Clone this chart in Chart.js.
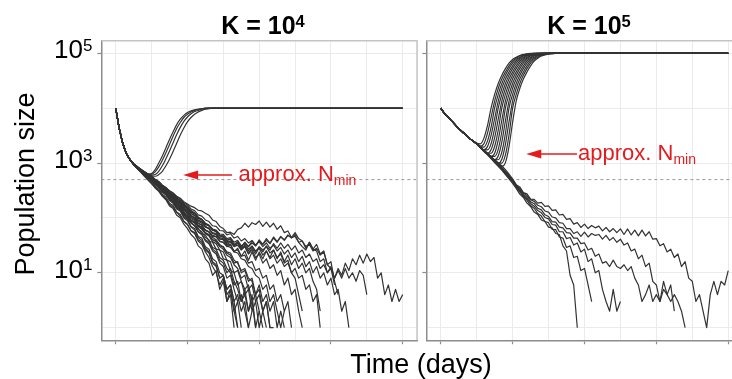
<!DOCTYPE html>
<html>
<head>
<meta charset="utf-8">
<script src="https://cdn.jsdelivr.net/npm/chart.js@4.4.1/dist/chart.umd.min.js"></script>
<style>
    html, body { margin: 0; padding: 0; width: 732px; height: 379px; overflow: hidden; background: #fff; }
    body { position: relative; font-family: "Liberation Sans", Arial, sans-serif; color: #000; }
    canvas { position: absolute; top: 0; }
    #k4 { left: 0; }
    #k5 { left: 420px; }
    .title { position: absolute; top: 13px; width: 316px; text-align: center; font-weight: bold; font-size: 25px; line-height: 25px; }
    .title .sup { position: relative; top: -0.45em; font-size: 0.66em; }
    #ytitle { position: absolute; left: -75px; top: 169px; width: 200px; height: 30px; line-height: 30px; text-align: center; font-size: 27px; transform: rotate(-90deg); }
    #xtitle { position: absolute; left: 321px; top: 351px; width: 200px; line-height: 27px; text-align: center; font-size: 27px; }
</style>
</head>
<body>
<canvas id="k4" width="420" height="379"></canvas>
<canvas id="k5" width="330" height="379"></canvas>
<div class="title" style="left:105px">K = 10<span class="sup">4</span></div>
<div class="title" style="left:431px">K = 10<span class="sup">5</span></div>
<div id="ytitle">Population size</div>
<div id="xtitle">Time (days)</div>
<script>
// sample times (days)
const halfDays = [0, 0.5, 1, 1.5, 2, 2.5, 3, 3.5, 4, 4.5, 5, 5.5, 6, 6.5, 7, 7.5, 8, 8.5, 9, 9.5, 10, 10.5, 11, 11.5, 12, 12.5, 13, 13.5, 14, 14.5, 15, 15.5, 16, 16.5, 17, 17.5, 18, 18.5, 19, 19.5, 20, 20.5, 21, 21.5, 22, 22.5, 23, 23.5, 24, 24.5, 25, 25.5, 26, 26.5, 27, 27.5, 28, 28.5, 29, 29.5, 30, 30.5, 31, 31.5, 32, 32.5, 33, 33.5, 34, 34.5, 35, 35.5, 36, 36.5, 37, 37.5, 38, 38.5, 39, 39.5, 40]
const k4RiseDays = [0, 0.5, 1, 1.5, 2, 2.5, 3, 3.5, 4, 4.5, 5, 5.5, 6, 6.5, 7, 7.5, 8, 8.5, 9, 9.5, 10, 10.5, 11, 11.5, 12, 12.5, 13, 13.5, 14, 40]
const k5RiseDays = [0, 0.5, 1, 1.5, 2, 2.5, 3, 3.5, 4, 4.5, 5, 5.5, 6, 6.5, 7, 7.5, 8, 8.5, 9, 9.5, 10, 10.5, 11, 11.5, 12, 12.5, 13, 13.5, 14, 14.5, 15, 15.5, 16, 40]
const gridDays = [0, 5, 10, 15, 20, 25, 30, 35, 40]
const decades = [1, 10, 100, 1000, 10000, 100000]
const labelledExps = [5, 3, 1]
const nminLevel = 500

// K = 10^4 panel: shared first days (t = 0 .. 2)
const k4Start = [10000, 4200, 2250, 1480, 1150]
// runs that reach K (from t = 2.5 .. 14, then t = 40)
const k4Survivor1 = [960, 835, 745, 680, 631, 646, 759, 1000, 1349, 1905, 2692, 3715, 5012, 6310, 7413, 8318, 8913, 9333, 9550, 9772, 10000, 10000, 10000, 10000, 10000]
const k4Survivor2 = [958, 832, 742, 676, 631, 631, 692, 851, 1122, 1549, 2188, 3090, 4266, 5495, 6761, 7762, 8511, 9120, 9550, 9772, 10000, 10000, 10000, 10000, 10000]
const k4Survivor3 = [955, 828, 738, 672, 617, 603, 617, 708, 891, 1202, 1660, 2344, 3311, 4467, 5754, 6918, 7943, 8710, 9120, 9550, 9772, 10000, 10000, 10000, 10000]
const k4Survivor4 = [952, 825, 735, 668, 617, 589, 575, 617, 708, 891, 1175, 1622, 2291, 3236, 4365, 5623, 6761, 7762, 8511, 9120, 9550, 9772, 10000, 10000, 10000]
// runs that die out (from t = 2.5, every half day)
const k4Lost1 = [933, 794, 676, 575, 490, 417, 352, 305, 248, 214, 165, 148, 112, 101, 77, 64, 50, 43, 31, 27, 18, 15, 9, 11, 5, 7, 3, 4, 1, 0]
const k4Lost2 = [933, 813, 708, 603, 525, 457, 380, 334, 271, 238, 186, 168, 128, 115, 87, 76, 58, 52, 38, 33, 24, 19, 13, 10, 6, 8, 3, 5, 2, 3, 1, 0]
const k4Lost3 = [955, 813, 708, 617, 537, 479, 402, 358, 296, 262, 208, 184, 146, 133, 100, 89, 68, 60, 44, 39, 28, 24, 16, 14, 8, 9, 4, 5, 2, 1, 0]
const k4Lost4 = [933, 794, 692, 589, 501, 437, 362, 318, 260, 222, 176, 156, 126, 108, 86, 76, 59, 54, 40, 36, 26, 23, 15, 13, 8, 9, 5, 6, 3, 4, 2, 3, 1, 2, 0]
const k4Lost5 = [955, 832, 724, 631, 562, 501, 424, 365, 312, 276, 236, 202, 168, 145, 118, 102, 82, 72, 56, 50, 38, 34, 25, 22, 15, 13, 8, 9, 5, 3, 4, 2, 1, 0]
const k4Lost6 = [955, 832, 724, 646, 575, 525, 452, 392, 336, 296, 248, 218, 176, 156, 124, 110, 88, 80, 62, 56, 44, 40, 29, 27, 19, 17, 12, 10, 6, 7, 3, 4, 2, 3, 1, 2, 0]
const k4Lost7 = [933, 813, 708, 617, 550, 490, 414, 364, 304, 265, 222, 192, 158, 136, 112, 96, 82, 72, 64, 52, 49, 38, 36, 27, 26, 18, 17, 11, 10, 6, 7, 4, 5, 2, 3, 1, 2, 1, 0]
const k4Lost8 = [955, 832, 724, 631, 562, 513, 434, 382, 328, 292, 248, 222, 188, 168, 142, 128, 102, 94, 74, 68, 54, 50, 40, 37, 30, 27, 21, 19, 14, 12, 8, 9, 5, 6, 3, 4, 2, 3, 1, 0]
const k4Lost9 = [955, 851, 741, 661, 589, 537, 462, 402, 342, 306, 258, 228, 184, 162, 128, 114, 92, 84, 70, 62, 52, 49, 40, 39, 33, 29, 24, 23, 17, 15, 11, 12, 8, 7, 4, 6, 3, 4, 2, 3, 1, 2, 1, 0]
const k4Lost10 = [933, 813, 708, 631, 562, 501, 424, 376, 312, 272, 232, 204, 164, 146, 114, 102, 90, 84, 70, 68, 60, 56, 48, 46, 38, 36, 31, 29, 24, 23, 18, 17, 13, 12, 9, 8, 5, 6, 3, 4, 2, 1, 2, 0]
const k4Lost11 = [955, 851, 759, 676, 603, 550, 474, 420, 358, 320, 278, 248, 210, 190, 158, 144, 120, 110, 90, 84, 70, 64, 54, 52, 44, 42, 35, 38, 31, 35, 27, 32, 25, 30, 24, 30, 26, 30, 23, 26, 19, 22, 15, 17, 10, 8, 4, 2, 0]
const k4Lost12 = [955, 832, 741, 661, 589, 525, 452, 400, 342, 306, 264, 236, 198, 176, 146, 130, 108, 98, 80, 74, 60, 56, 46, 45, 37, 36, 30, 32, 24, 28, 20, 25, 17, 24, 17, 24, 18, 25, 19, 26, 18, 24, 16, 21, 14, 18, 12, 15, 10, 12, 7, 5, 2, 0]
const k4Lost13 = [977, 851, 759, 676, 617, 562, 496, 442, 384, 344, 298, 266, 232, 206, 180, 158, 136, 124, 104, 94, 78, 72, 62, 56, 48, 46, 39, 42, 33, 37, 29, 36, 30, 38, 31, 40, 33, 42, 35, 45, 37, 46, 39, 48, 44, 54, 42, 38, 28, 36, 27, 33, 22, 25, 14, 12, 6, 0]
const k4Lost14 = [977, 871, 776, 692, 631, 575, 508, 462, 394, 358, 312, 286, 248, 228, 198, 180, 164, 154, 138, 134, 122, 112, 92, 86, 70, 64, 54, 55, 50, 62, 66, 80, 68, 82, 76, 88, 70, 84, 68, 80, 62, 72, 54, 58, 44, 46, 36, 38, 30, 33, 25, 28, 21, 24, 14, 16, 7, 4, 0]
const k4Lost15 = [955, 851, 759, 676, 603, 537, 474, 420, 358, 320, 270, 244, 200, 182, 148, 134, 112, 102, 86, 80, 68, 64, 52, 50, 42, 40, 33, 36, 30, 32, 26, 30, 23, 28, 22, 29, 24, 31, 26, 34, 28, 35, 28, 33, 26, 31, 23, 26, 19, 22, 16, 18, 12, 14, 10, 12, 8, 11, 8, 12, 8, 10, 7, 11, 9, 4, 0]
const k4Lost16 = [955, 851, 759, 692, 617, 550, 486, 440, 376, 336, 284, 256, 220, 198, 170, 154, 128, 120, 98, 92, 76, 72, 60, 56, 47, 44, 37, 38, 31, 35, 29, 36, 30, 35, 31, 38, 33, 39, 34, 43, 36, 45, 40, 49, 43, 50, 36, 30, 26, 36, 27, 25, 16, 18, 10, 13, 8, 12, 9, 15, 11, 18, 14, 21, 15, 22, 16, 19, 8, 10, 4, 6, 3, 5, 3, 4]
const k4Lost17 = [955, 832, 724, 631, 550, 490, 418, 372, 306, 274, 214, 196, 152, 140, 104, 95, 70, 64, 46, 43, 30, 27, 18, 16, 10, 9, 5, 6, 3, 1, 0]
const k4Lost18 = [955, 832, 724, 631, 562, 501, 430, 380, 320, 286, 232, 210, 168, 150, 118, 104, 80, 72, 56, 50, 40, 36, 27, 24, 17, 15, 10, 12, 7, 5, 3, 5, 2, 4, 1, 0]
const k4Lost19 = [933, 813, 708, 617, 550, 501, 432, 388, 330, 296, 250, 226, 186, 168, 136, 122, 98, 90, 70, 64, 52, 47, 37, 34, 26, 24, 17, 16, 10, 11, 7, 5, 6, 3, 4, 2, 1, 0]
const k4Lost20 = [955, 851, 741, 661, 589, 537, 466, 416, 356, 318, 270, 244, 204, 184, 150, 136, 110, 100, 80, 74, 60, 55, 44, 40, 31, 30, 23, 21, 15, 16, 10, 11, 7, 8, 4, 5, 2, 3, 1, 1, 0]
const k4Lost21 = [955, 851, 741, 661, 589, 537, 470, 418, 360, 326, 280, 254, 216, 196, 164, 150, 122, 112, 92, 86, 70, 64, 52, 50, 41, 40, 32, 33, 25, 26, 20, 21, 15, 16, 11, 12, 8, 9, 5, 6, 3, 4, 2, 3, 1, 0]
const k4Lost22 = [977, 851, 759, 676, 603, 550, 484, 436, 376, 340, 296, 268, 228, 208, 174, 158, 132, 122, 100, 94, 78, 72, 60, 58, 48, 47, 39, 41, 32, 35, 27, 30, 22, 26, 19, 22, 15, 18, 12, 14, 9, 11, 6, 8, 4, 5, 2, 1, 0]
const k4Lost23 = [955, 851, 759, 676, 603, 550, 480, 428, 370, 332, 288, 262, 222, 202, 170, 156, 130, 120, 100, 94, 80, 74, 63, 60, 51, 50, 42, 44, 36, 39, 31, 34, 27, 31, 25, 28, 21, 25, 18, 21, 15, 18, 13, 15, 10, 12, 8, 9, 5, 6, 3, 4, 1, 0]
const k4Lost24 = [977, 871, 776, 692, 631, 575, 504, 456, 394, 356, 310, 284, 242, 222, 188, 172, 146, 136, 114, 108, 92, 86, 72, 70, 59, 58, 49, 52, 43, 46, 38, 42, 35, 39, 32, 37, 30, 35, 28, 32, 25, 29, 22, 26, 19, 23, 16, 20, 13, 16, 10, 13, 8, 10, 6, 8, 4, 5, 2, 3, 1, 0]

// K = 10^5 panel: shared first days (t = 0 .. 4.5)
const k5Start = [10000, 8130, 6920, 5890, 5010, 4270, 3720, 3240, 2820, 2510]
// runs that reach K (from t = 5 .. 16, then t = 40)
const k5Survivor1 = [2290, 2240, 2820, 4790, 10000, 17800, 28200, 39800, 52500, 66100, 77600, 85100, 91200, 95500, 97700, 100000, 100000, 100000, 100000, 100000, 100000, 100000, 100000, 100000]
const k5Survivor2 = [2290, 2040, 2240, 3470, 6760, 13500, 22900, 33900, 45700, 58900, 72400, 81300, 89100, 93300, 96600, 97700, 100000, 100000, 100000, 100000, 100000, 100000, 100000, 100000]
const k5Survivor3 = [2290, 1995, 1950, 2510, 4470, 10000, 17800, 28200, 39800, 52500, 66100, 77600, 85100, 91200, 95500, 97700, 100000, 100000, 100000, 100000, 100000, 100000, 100000, 100000]
const k5Survivor4 = [2240, 1995, 1740, 1995, 3160, 6460, 13500, 22900, 33900, 45700, 58900, 72400, 81300, 89100, 93300, 96600, 97700, 100000, 100000, 100000, 100000, 100000, 100000, 100000]
const k5Survivor5 = [2240, 1950, 1740, 1740, 2240, 4270, 10000, 17800, 28200, 39800, 52500, 66100, 77600, 85100, 91200, 95500, 97700, 100000, 100000, 100000, 100000, 100000, 100000, 100000]
const k5Survivor6 = [2240, 1950, 1720, 1510, 1740, 2880, 6310, 13500, 22900, 33900, 45700, 58900, 72400, 81300, 89100, 93300, 96600, 97700, 100000, 100000, 100000, 100000, 100000, 100000]
const k5Survivor7 = [2240, 1950, 1700, 1510, 1510, 2000, 3980, 10000, 17800, 28200, 39800, 52500, 66100, 77600, 85100, 91200, 95500, 97700, 100000, 100000, 100000, 100000, 100000, 100000]
const k5Survivor8 = [2240, 1950, 1700, 1500, 1320, 1510, 2630, 6030, 13500, 22900, 33900, 45700, 58900, 72400, 81300, 89100, 93300, 96600, 97700, 100000, 100000, 100000, 100000, 100000]
const k5Survivor9 = [2240, 1950, 1700, 1500, 1320, 1320, 1780, 3720, 10000, 17800, 28200, 39800, 52500, 66100, 77600, 85100, 91200, 95500, 97700, 100000, 100000, 100000, 100000, 100000]
const k5Survivor10 = [2240, 1950, 1700, 1480, 1300, 1150, 1350, 2400, 5890, 13500, 22900, 33900, 45700, 58900, 72400, 81300, 89100, 93300, 96600, 97700, 100000, 100000, 100000, 100000]
const k5Survivor11 = [2240, 1950, 1700, 1480, 1300, 1150, 1150, 1580, 3470, 10000, 17800, 28200, 39800, 52500, 66100, 77600, 85100, 91200, 95500, 97700, 100000, 100000, 100000, 100000]
const k5Survivor12 = [2240, 1950, 1700, 1480, 1300, 1135, 1000, 1175, 2190, 5620, 13500, 22900, 33900, 45700, 58900, 72400, 81300, 89100, 93300, 96600, 97700, 100000, 100000, 100000]
const k5Survivor13 = [2240, 1950, 1700, 1480, 1300, 1135, 1000, 1000, 1410, 3240, 10000, 17800, 28200, 39800, 52500, 66100, 77600, 85100, 91200, 95500, 97700, 100000, 100000, 100000]
const k5Survivor14 = [2240, 1950, 1700, 1480, 1300, 1135, 990, 870, 1020, 2000, 5500, 13500, 22900, 33900, 45700, 58900, 72400, 81300, 89100, 93300, 96600, 97700, 100000, 100000]
// runs that die out (from t = 5, every half day)
const k5Lost1 = [2240, 1905, 1620, 1413, 1202, 1023, 871, 741, 617, 513, 425, 346, 272, 236, 186, 162, 128, 116, 92, 86, 68, 66, 52, 50, 31, 25, 9, 6, 1]
const k5Lost2 = [2240, 1905, 1660, 1445, 1230, 1047, 891, 759, 646, 537, 452, 362, 298, 244, 210, 168, 150, 120, 108, 86, 82, 62, 61, 45, 43, 29, 31, 19, 20, 11, 12, 6, 3, 0]
const k5Lost3 = [2240, 1950, 1660, 1445, 1259, 1096, 933, 794, 676, 562, 472, 374, 314, 254, 224, 184, 164, 136, 124, 102, 96, 76, 74, 56, 56, 42, 44, 32, 35, 24, 27, 16, 18, 10, 11, 5, 3, 2, 5, 2, 3, 0]
const k5Lost4 = [2240, 1950, 1700, 1480, 1290, 1120, 977, 832, 708, 589, 492, 398, 344, 282, 256, 214, 200, 170, 160, 134, 128, 104, 100, 82, 80, 64, 64, 52, 56, 46, 55, 45, 52, 48, 50, 41, 48, 39, 44, 36, 41, 32, 35, 25, 27, 18, 21, 13, 15, 7, 6, 3, 7, 4, 6, 2, 0]
const k5Lost5 = [2240, 1950, 1700, 1480, 1290, 1120, 955, 813, 692, 575, 482, 382, 330, 268, 238, 198, 182, 150, 140, 114, 106, 86, 84, 68, 66, 54, 53, 43, 43, 34, 35, 26, 28, 20, 22, 15, 16, 13, 17, 13, 12, 14, 11, 13, 8, 6, 3, 4, 6, 3, 4, 3, 5, 4, 3, 4, 3, 2, 1, 0]
const k5Lost6 = [2240, 1950, 1700, 1480, 1290, 1150, 1000, 891, 759, 631, 518, 404, 368, 290, 274, 220, 218, 186, 192, 162, 166, 137, 140, 113, 116, 94, 97, 77, 82, 67, 77, 64, 73, 66, 71, 58, 67, 56, 64, 54, 63, 50, 63, 49, 60, 47, 60, 47, 56, 41, 42, 31, 34, 24, 27, 19, 22, 13, 16, 8, 7, 3, 4, 2, 1, 4, 7, 4, 7, 6, 11]

// annotation arrows, in data units
const k4Note = { level: 605, tail: 16.2, tip: 9.4, textAt: 17.1 }
const k5Note = { level: 1460, tail: 18.95, tip: 11.9, textAt: 19.1 }

const ink = "#333333"
const noteRed = "#e41a1c"
const fontStack = '"Liberation Sans", Arial, sans-serif'

const runDataset = (days, values, smooth) => ({
    data: values.map((v, i) => ({ x: days[i], y: v })),
    borderColor: ink,
    borderWidth: 1.2,
    borderJoinStyle: "round",
    pointRadius: 0,
    tension: smooth ? 0.4 : 0,
    cubicInterpolationMode: smooth ? "monotone" : "default",
})

const k4LostRuns = [k4Lost1, k4Lost2, k4Lost3, k4Lost4, k4Lost5, k4Lost6, k4Lost7, k4Lost8, k4Lost9, k4Lost10, k4Lost11, k4Lost12,
    k4Lost13, k4Lost14, k4Lost15, k4Lost16, k4Lost17, k4Lost18, k4Lost19, k4Lost20, k4Lost21, k4Lost22, k4Lost23, k4Lost24]
const k4Datasets = [
    ...k4LostRuns.map((run) => runDataset(halfDays, k4Start.concat(run), false)),
    ...[k4Survivor1, k4Survivor2, k4Survivor3, k4Survivor4]
        .map((run) => runDataset(k4RiseDays, k4Start.concat(run), true)),
]

const k5Datasets = [
    ...[k5Lost1, k5Lost2, k5Lost3, k5Lost4, k5Lost5, k5Lost6]
        .map((run) => runDataset(halfDays, k5Start.concat(run), false)),
    ...[k5Survivor1, k5Survivor2, k5Survivor3, k5Survivor4, k5Survivor5, k5Survivor6, k5Survivor7, k5Survivor8, k5Survivor9, k5Survivor10, k5Survivor11, k5Survivor12, k5Survivor13, k5Survivor14]
        .map((run) => runDataset(k5RiseDays, k5Start.concat(run), true)),
]

const frame = {
    id: "frame",
    beforeDatasetsDraw(chart) {
        const { ctx, chartArea: a } = chart
        const y = chart.scales.y.getPixelForValue(nminLevel)
        ctx.save()
        ctx.strokeStyle = "#9a9a9a"
        ctx.lineWidth = 1
        ctx.setLineDash([3, 3])
        ctx.beginPath()
        ctx.moveTo(a.left, y)
        ctx.lineTo(a.right, y)
        ctx.stroke()
        ctx.restore()
    },
    afterDatasetsDraw(chart) {
        const { ctx, chartArea: a } = chart
        ctx.save()
        ctx.strokeStyle = "#c4c4c4"
        ctx.lineWidth = 1.5
        ctx.beginPath()
        ctx.moveTo(a.left, a.top)
        ctx.lineTo(a.right, a.top)
        ctx.lineTo(a.right, a.bottom)
        ctx.stroke()
        ctx.restore()
    },
}

const noteFor = (note) => ({
    id: "note",
    afterDatasetsDraw(chart) {
        const { ctx } = chart
        const xs = chart.scales.x
        const y = chart.scales.y.getPixelForValue(note.level)
        const x0 = xs.getPixelForValue(note.tail)
        const x1 = xs.getPixelForValue(note.tip)
        ctx.save()
        ctx.strokeStyle = noteRed
        ctx.fillStyle = noteRed
        ctx.lineWidth = 1.6
        ctx.beginPath()
        ctx.moveTo(x0, y)
        ctx.lineTo(x1 + 10, y)
        ctx.stroke()
        ctx.beginPath()
        ctx.moveTo(x1, y)
        ctx.lineTo(x1 + 15, y - 4.5)
        ctx.lineTo(x1 + 15, y + 4.5)
        ctx.closePath()
        ctx.fill()
        const tx = xs.getPixelForValue(note.textAt)
        ctx.textBaseline = "alphabetic"
        ctx.font = `22px ${fontStack}`
        ctx.fillText("approx. N", tx, y + 6)
        const w = ctx.measureText("approx. N").width
        ctx.font = `14px ${fontStack}`
        ctx.fillText("min", tx + w, y + 9.5)
        ctx.restore()
    },
})

const yLabels = {
    id: "yLabels",
    afterDraw(chart) {
        const { ctx } = chart
        const ys = chart.scales.y
        const right = chart.chartArea.left - 9
        ctx.save()
        ctx.fillStyle = "#000"
        ctx.textBaseline = "alphabetic"
        labelledExps.forEach((e) => {
            const py = ys.getPixelForValue(10 ** e)
            ctx.font = `17px ${fontStack}`
            const supW = ctx.measureText(String(e)).width
            ctx.fillText(String(e), right - supW, py - 2.5)
            ctx.font = `26px ${fontStack}`
            const mainW = ctx.measureText("10").width
            ctx.fillText("10", right - supW - mainW, py + 5)
        })
        ctx.restore()
    },
}

const makePanel = (id, datasets, padding, plugins) =>
    new Chart(document.getElementById(id), {
        type: "line",
        data: { datasets },
        plugins,
        options: {
            responsive: false,
            animation: false,
            events: [],
            layout: { padding },
            plugins: { legend: { display: false }, tooltip: { enabled: false } },
            scales: {
                x: {
                    type: "linear",
                    min: -2,
                    max: 42,
                    afterBuildTicks: (s) => { s.ticks = gridDays.map((v) => ({ value: v })) },
                    afterFit: (s) => { s.height = 6 },
                    ticks: { display: false },
                    grid: {
                        color: "#ebebeb",
                        tickLength: 4,
                        tickWidth: 1.2,
                        tickColor: (c) => (c.tick && c.tick.value % 10 === 0 ? "#8c8c8c" : "rgba(0,0,0,0)"),
                    },
                    border: { display: true, color: "#8c8c8c", width: 1.5 },
                },
                y: {
                    type: "logarithmic",
                    min: 0.589,
                    max: 169800,
                    afterBuildTicks: (s) => { s.ticks = decades.map((v) => ({ value: v })) },
                    afterFit: (s) => { s.width = 6 },
                    ticks: { display: false },
                    grid: {
                        color: "#ebebeb",
                        tickLength: 4,
                        tickWidth: 1.2,
                        tickColor: (c) => (c.tick && labelledExps.includes(Math.round(Math.log10(c.tick.value))) ? "#8c8c8c" : "rgba(0,0,0,0)"),
                    },
                    border: { display: true, color: "#8c8c8c", width: 1.5 },
                },
            },
        },
    })

makePanel("k4", k4Datasets, { left: 95.35, right: 2.95, top: 40.7, bottom: 32.7 }, [frame, noteFor(k4Note), yLabels])
makePanel("k5", k5Datasets, { left: 0.35, right: 7.4, top: 40.7, bottom: 32.7 }, [frame, noteFor(k5Note)])
</script>
</body>
</html>
